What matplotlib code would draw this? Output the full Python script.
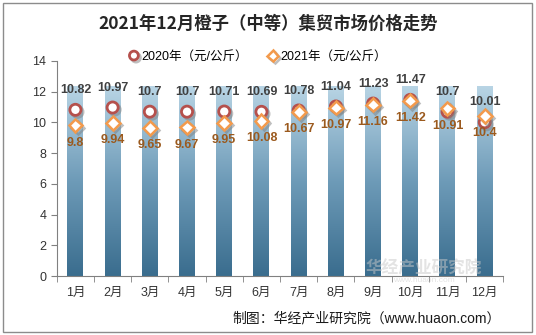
import numpy as np
import matplotlib.pyplot as plt
import matplotlib.patheffects as pe
from matplotlib.patches import Rectangle
from matplotlib.colors import LinearSegmentedColormap

plt.rcParams['font.family'] = ['Liberation Sans', 'Noto Sans CJK SC', 'DejaVu Sans']

months = ['1月', '2月', '3月', '4月', '5月', '6月', '7月', '8月', '9月', '10月', '11月', '12月']
price_2020 = [10.82, 10.97, 10.7, 10.7, 10.71, 10.69, 10.78, 11.04, 11.23, 11.47, 10.7, 10.01]
price_2021 = [9.8, 9.94, 9.65, 9.67, 9.95, 10.08, 10.67, 10.97, 11.16, 11.42, 10.91, 10.4]
bar_top = [12.4, 12.4, 12.4, 12.4, 12.4, 12.4, 12.4, 12.4, 12.4, 12.4, 12.4, 12.4]

fig = plt.figure(figsize=(5.36, 3.35), dpi=100)
ax = fig.add_axes([0.106, 0.176, 0.833, 0.642])
x = np.arange(len(months))

# background bars with a vertical gradient
grad = np.linspace(0, 1, 256).reshape(-1, 1)
cmap = LinearSegmentedColormap.from_list('b', ['#3A6D8E', '#6E9BB8', '#B9D5E5'])
bars = ax.bar(x, bar_top, width=0.43, color='none', edgecolor='none', zorder=1)
for b in bars:
    im = ax.imshow(grad, cmap=cmap, origin='lower', aspect='auto',
                   extent=[b.get_x(), b.get_x() + b.get_width(), 0, b.get_height()], zorder=1)
    im.set_clip_path(b)

shadow = [pe.SimpleLineShadow(offset=(1.5, -1.5), shadow_color='gray', alpha=0.5), pe.Normal()]
ax.plot(x, price_2020, 'o', ms=8, mfc='white', mec='#B5504C', mew=2.0, ls='none',
        zorder=3, path_effects=shadow, label='2020年（元/公斤）')
ax.plot(x, price_2021, 'D', ms=7, mfc='white', mec='#F39A4C', mew=1.8, ls='none',
        zorder=4, path_effects=shadow, label='2021年（元/公斤）')

for i in range(len(months)):
    ax.annotate(f'{price_2020[i]:g}', (x[i], price_2020[i]), xytext=(0, 10), textcoords='offset points',
                ha='center', va='bottom', fontsize=9, fontweight='bold', color='#404040', zorder=5)
    ax.annotate(f'{price_2021[i]:g}', (x[i], price_2021[i]), xytext=(0, -8), textcoords='offset points',
                ha='center', va='top', fontsize=9, fontweight='bold', color='#9B5A1E', zorder=5)

ax.set_xlim(-0.5, 11.5)
ax.set_ylim(0, 14)
ax.set_yticks(range(0, 15, 2))
ax.set_xticks(x)
ax.set_xticklabels(months)
ax.set_xticks(np.arange(-0.5, 12, 1), minor=True)
ax.tick_params(axis='x', which='major', length=0, pad=8)
ax.tick_params(axis='x', which='minor', length=4, color='#808080')
ax.tick_params(axis='y', length=4, color='#808080')
ax.tick_params(labelsize=9, labelcolor='#333333')
for s in ['top', 'right']:
    ax.spines[s].set_visible(False)
for s in ['left', 'bottom']:
    ax.spines[s].set_color('#808080')

fig.text(0.5, 0.93, '2021年12月橙子（中等）集贸市场价格走势', ha='center', va='center',
         fontsize=12.5, fontweight='bold', color='#262626', family=['Noto Sans CJK SC'])
fig.legend(loc='center', bbox_to_anchor=(0.48, 0.83), ncol=2, frameon=False,
           handletextpad=0.1, columnspacing=1.5, handlelength=1.0, markerscale=0.8,
           prop={'family': ['Liberation Sans', 'Noto Sans CJK SC'], 'size': 9})

# watermark
fig.text(0.79, 0.198, '华经产业研究院', ha='center', va='center', fontsize=12, color='#C8C8C8',
         alpha=0.5, family=['Noto Sans CJK SC'], fontweight='bold')
fig.text(0.79, 0.162, 'www.huaon.com', ha='center', va='center', fontsize=6, color='#C8C8C8', alpha=0.5)

fig.text(0.935, 0.05, '制图：华经产业研究院（www.huaon.com）', ha='right', va='center',
         fontsize=10, color='#1A1A1A', family=['Liberation Sans', 'Noto Sans CJK SC'])

fig.patches.append(Rectangle((0.006, 0.009), 0.986, 0.982, transform=fig.transFigure,
                             fill=False, edgecolor='#8C8C8C', lw=1))

fig.savefig('out.png', dpi=100)
